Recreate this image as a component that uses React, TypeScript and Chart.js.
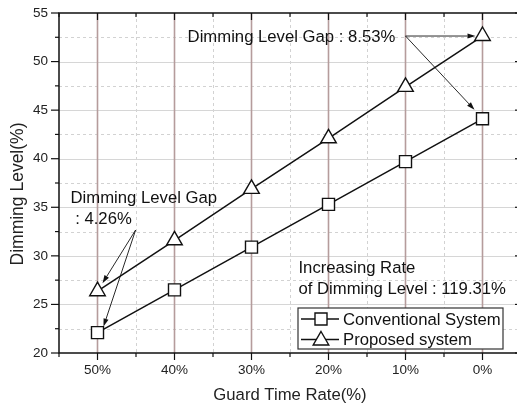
import { useEffect, useRef } from 'react';
import { Chart, registerables } from 'chart.js';

Chart.register(...registerables);

// ---------- data ----------
const categories = ['50%', '40%', '30%', '20%', '10%', '0%'];
const conventional = [22.1, 26.5, 30.9, 35.3, 39.7, 44.11];
const proposed = [26.36, 31.6, 36.9, 42.1, 47.4, 52.63];
const yTicks = [20, 25, 30, 35, 40, 45, 50, 55];
const seriesLabels = ['Conventional System', 'Proposed system'];
const xTitle = 'Guard Time Rate(%)';
const yTitle = 'Dimming Level(%)';
const topGapText = 'Dimming Level Gap : 8.53%';
const bottomGapLines = ['Dimming Level Gap', ': 4.26%'];
const rateLines = ['Increasing Rate', 'of Dimming Level : 119.31%'];

const FONT = '"Liberation Sans", Arial, Helvetica, sans-serif';
const TXT = 16.7;

function seg(ctx: CanvasRenderingContext2D, x1: number, y1: number, x2: number, y2: number) {
  ctx.beginPath();
  ctx.moveTo(x1, y1);
  ctx.lineTo(x2, y2);
  ctx.stroke();
}

function arrow(ctx: CanvasRenderingContext2D, x1: number, y1: number, x2: number, y2: number) {
  const ang = Math.atan2(y2 - y1, x2 - x1);
  const len = 8;
  const hw = 2.6;
  const bx = x2 - Math.cos(ang) * len;
  const by = y2 - Math.sin(ang) * len;
  ctx.lineWidth = 0.9;
  seg(ctx, x1, y1, bx, by);
  ctx.beginPath();
  ctx.moveTo(x2, y2);
  ctx.lineTo(bx + Math.sin(ang) * hw, by - Math.cos(ang) * hw);
  ctx.lineTo(bx - Math.sin(ang) * hw, by + Math.cos(ang) * hw);
  ctx.closePath();
  ctx.fill();
}

function drawSquare(ctx: CanvasRenderingContext2D, cx: number, cy: number, r: number) {
  const s = r * Math.SQRT1_2;
  ctx.beginPath();
  ctx.rect(cx - s, cy - s, 2 * s, 2 * s);
  ctx.fillStyle = '#fff';
  ctx.fill();
  ctx.stroke();
}

function drawTriangle(ctx: CanvasRenderingContext2D, cx: number, cy: number, r: number) {
  ctx.beginPath();
  for (let k = 0; k < 3; k++) {
    const a = (k * 2 * Math.PI) / 3;
    const px = cx + Math.sin(a) * r;
    const py = cy - Math.cos(a) * r;
    if (k === 0) ctx.moveTo(px, py);
    else ctx.lineTo(px, py);
  }
  ctx.closePath();
  ctx.fillStyle = '#fff';
  ctx.fill();
  ctx.stroke();
}

const decor = {
  id: 'decor',
  beforeDatasetsDraw(chart: any) {
    const { ctx, chartArea: a, scales } = chart;
    const x = scales.x;
    const y = scales.y;
    ctx.save();
    // minor dashed grid
    ctx.lineWidth = 1;
    ctx.strokeStyle = '#d2d2d2';
    ctx.setLineDash([3, 3]);
    for (let i = 0; i < yTicks.length - 1; i++) {
      const py = Math.round(y.getPixelForValue((yTicks[i] + yTicks[i + 1]) / 2)) + 0.5;
      seg(ctx, a.left, py, a.right, py);
    }
    for (let i = 0; i < categories.length - 1; i++) {
      const px = Math.round(x.getPixelForValue(i + 0.5)) + 0.5;
      seg(ctx, px, a.top, px, a.bottom);
    }
    ctx.setLineDash([]);
    // major horizontal grid
    ctx.strokeStyle = '#d6d6d6';
    for (let i = 1; i < yTicks.length - 1; i++) {
      const py = Math.round(y.getPixelForValue(yTicks[i])) + 0.5;
      seg(ctx, a.left, py, a.right, py);
    }
    // major vertical grid (brownish)
    ctx.strokeStyle = '#b59c9c';
    ctx.lineWidth = 1.6;
    for (let i = 0; i < categories.length; i++) {
      const px = x.getPixelForValue(i);
      seg(ctx, px, a.top, px, a.bottom);
    }
    // frame
    ctx.strokeStyle = '#111';
    ctx.lineWidth = 1.5;
    ctx.strokeRect(a.left, a.top, a.right - a.left, a.bottom - a.top);
    // y ticks
    ctx.lineWidth = 1.2;
    for (let i = 0; i < yTicks.length; i++) {
      const py = y.getPixelForValue(yTicks[i]);
      seg(ctx, a.left - 8, py, a.left, py);
      seg(ctx, a.right, py, a.right - 6, py);
      if (i < yTicks.length - 1) {
        const pm = y.getPixelForValue((yTicks[i] + yTicks[i + 1]) / 2);
        seg(ctx, a.left - 4, pm, a.left, pm);
        seg(ctx, a.right, pm, a.right - 3, pm);
      }
    }
    // x ticks
    for (let i = 0; i < categories.length; i++) {
      const px = x.getPixelForValue(i);
      seg(ctx, px, a.bottom, px, a.bottom + 7);
      seg(ctx, px, a.top, px, a.top + 7);
    }
    for (let i = -1; i < categories.length; i++) {
      const px = x.getPixelForValue(i + 0.5);
      seg(ctx, px, a.bottom, px, a.bottom + 4);
      seg(ctx, px, a.top, px, a.top + 4);
    }
    ctx.restore();
  },
  afterDraw(chart: any) {
    const { ctx, chartArea: a, scales } = chart;
    const x = scales.x;
    const y = scales.y;
    const capOff = TXT * 0.358;
    ctx.save();
    ctx.fillStyle = '#111';
    ctx.strokeStyle = '#111';
    ctx.textBaseline = 'alphabetic';

    // y axis title
    ctx.save();
    ctx.font = `17.5px ${FONT}`;
    ctx.fillStyle = '#222';
    ctx.textAlign = 'center';
    ctx.translate(17 + 17.5 * 0.358, (a.top + a.bottom) / 2 + 11);
    ctx.rotate(-Math.PI / 2);
    ctx.fillText(yTitle, 0, 0);
    ctx.restore();

    ctx.font = `${TXT}px ${FONT}`;
    ctx.textAlign = 'left';
    ctx.fillStyle = '#111';

    // top gap annotation
    const tY = y.getPixelForValue(proposed[5]);
    ctx.fillText(topGapText, x.getPixelForValue(1.17), tY + capOff);
    const tailX = x.getPixelForValue(4);
    const pT = { x: x.getPixelForValue(5), y: y.getPixelForValue(proposed[5]) };
    const pS = { x: x.getPixelForValue(5), y: y.getPixelForValue(conventional[5]) };
    arrow(ctx, tailX, tY, pT.x - 7, tY);
    arrow(ctx, tailX, tY, pS.x - 8, pS.y - 9);

    // bottom gap annotation
    const bY = y.getPixelForValue(36.1);
    ctx.fillText(bottomGapLines[0], x.getPixelForValue(-0.35), bY + capOff);
    ctx.fillText(bottomGapLines[1], x.getPixelForValue(-0.29), bY + 21 + capOff);
    const bTailX = x.getPixelForValue(0.495);
    const bTailY = y.getPixelForValue(32.66);
    const q1 = { x: x.getPixelForValue(0), y: y.getPixelForValue(proposed[0]) };
    const q2 = { x: x.getPixelForValue(0), y: y.getPixelForValue(conventional[0]) };
    arrow(ctx, bTailX, bTailY, q1.x + 5, q1.y - 8);
    arrow(ctx, bTailX, bTailY, q2.x + 6, q2.y - 6);

    // increasing rate text
    const rY = y.getPixelForValue(28.85);
    ctx.fillText(rateLines[0], x.getPixelForValue(2.61), rY + capOff);
    ctx.fillText(rateLines[1], x.getPixelForValue(2.61), rY + 20.5 + capOff);

    // legend
    const lx = a.right - 223;
    const ly = a.bottom - 45;
    const lw = 205;
    const lh = 41;
    ctx.fillStyle = '#fff';
    ctx.fillRect(lx, ly, lw, lh);
    ctx.lineWidth = 1.2;
    ctx.strokeStyle = '#333';
    ctx.strokeRect(lx, ly, lw, lh);
    const rows = [ly + 11, ly + 31.5];
    ctx.strokeStyle = '#111';
    for (let k = 0; k < 2; k++) {
      const cy = rows[k];
      ctx.lineWidth = 1.5;
      seg(ctx, lx + 3, cy, lx + 41, cy);
      ctx.lineWidth = 1.4;
      if (k === 0) drawSquare(ctx, lx + 23, cy, 8.5);
      else drawTriangle(ctx, lx + 23, cy + 1, 9);
      ctx.fillStyle = '#111';
      ctx.fillText(seriesLabels[k], lx + 45, cy + capOff);
    }
    ctx.restore();
  },
};

export default function App() {
  const ref = useRef<HTMLCanvasElement | null>(null);
  useEffect(() => {
    const canvas = ref.current;
    if (!canvas) return;
    const chart = new Chart(canvas, {
      type: 'line',
      data: {
        labels: categories,
        datasets: [
          {
            label: seriesLabels[0],
            data: conventional,
            borderColor: '#111',
            borderWidth: 1.5,
            pointStyle: 'rect',
            pointRadius: 8.5,
            pointBorderWidth: 1.4,
            pointBackgroundColor: '#fff',
            pointBorderColor: '#111',
            tension: 0,
            clip: false,
          },
          {
            label: seriesLabels[1],
            data: proposed,
            borderColor: '#111',
            borderWidth: 1.5,
            pointStyle: 'triangle',
            pointRadius: 9,
            pointBorderWidth: 1.4,
            pointBackgroundColor: '#fff',
            pointBorderColor: '#111',
            tension: 0,
            clip: false,
          },
        ] as any,
      },
      options: {
        responsive: false,
        animation: false,
        devicePixelRatio: 1,
        layout: { autoPadding: false, padding: { top: 13, right: 1, left: 0, bottom: 0 } },
        plugins: { legend: { display: false }, tooltip: { enabled: false } },
        scales: {
          x: {
            type: 'category',
            offset: true,
            grid: { display: false, drawTicks: false },
            border: { display: false },
            ticks: { color: '#222', font: { family: FONT, size: 13.5 }, padding: 9, maxRotation: 0 },
            title: { display: true, text: xTitle, color: '#222', font: { family: FONT, size: 16.7 }, padding: { top: 0, bottom: 1 } },
            afterFit: (s: any) => {
              s.height = 53;
              s.paddingLeft = 0;
              s.paddingRight = 0;
            },
          },
          y: {
            type: 'linear',
            min: 20,
            max: 55,
            grid: { display: false, drawTicks: false },
            border: { display: false },
            ticks: { color: '#222', font: { family: FONT, size: 13.5 }, padding: 11 },
            afterBuildTicks: (s: any) => { s.ticks = yTicks.map((v) => ({ value: v })); },
            title: { display: false },
            afterFit: (s: any) => {
              s.width = 59;
              s.paddingTop = 0;
              s.paddingBottom = 0;
            },
          },
        },
      },
      plugins: [decor],
    });
    return () => chart.destroy();
  }, []);
  return (
    <div style={{ position: 'fixed', left: 0, top: 0, width: 517, height: 406, overflow: 'hidden', background: '#fff' }}>
      <canvas ref={ref} width={522} height={406} style={{ width: 522, height: 406, display: 'block' }} />
    </div>
  );
}
